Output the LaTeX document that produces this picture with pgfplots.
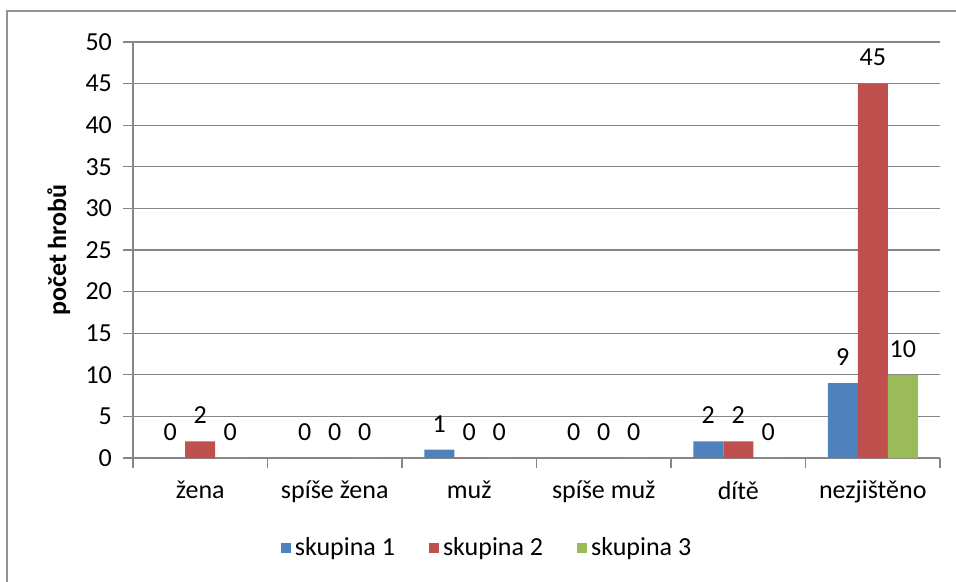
\documentclass[border=0pt]{standalone}
\usepackage{pgfplots}
\pgfplotsset{compat=1.18}
\usepackage{fontspec}
\setmainfont{Carlito}
\definecolor{sk1}{HTML}{4F81BD}
\definecolor{sk2}{HTML}{C0504D}
\definecolor{sk3}{HTML}{9BBB59}
\definecolor{osa}{HTML}{868686}
\begin{document}
\begin{tikzpicture}
\begin{axis}[
    scale only axis,
    width=403.5pt, height=208pt,
    ybar=0pt, bar width=15pt,
    xmin=-0.5, xmax=5.5,
    ymin=0, ymax=50,
    ytick={0,5,...,50},
    xtick={0,...,5},
    xticklabels={žena, spíše žena, muž, spíše muž, dítě, nezjištěno},
    minor xtick={-0.5,0.5,...,5.5},
    major x tick style={draw=none},
    tick align=outside,
    major tick length=5pt, minor tick length=5pt,
    tick style={osa, line width=0.6pt},
    axis x line*=bottom, axis y line*=left,
    axis line style={osa, line width=0.6pt},
    ymajorgrids, grid style={osa, line width=0.6pt},
    font=\fontsize{13}{15}\selectfont,
    tick label style={font=\fontsize{13}{15}\selectfont},
    /pgf/number format/assume math mode=true,
    xticklabel style={yshift=-3pt},
    yticklabel style={xshift=-2pt},
    ylabel={\bfseries počet hrobů},
    ylabel style={at={(axis description cs:-0.092,0.5)}, anchor=center, font=\fontsize{13}{15}\selectfont},
    nodes near coords,
    every node near coord/.append style={anchor=center, yshift=13pt, font=\fontsize{13}{15}\selectfont, text=black},
    legend columns=3,
    legend style={at={(axis description cs:0.44,-0.216)}, anchor=center, draw=none,
        font=\fontsize{13}{15}\selectfont,
        /tikz/every even column/.append style={column sep=15pt}},
    legend image code/.code={\fill[#1] (0pt,-2.5pt) rectangle (5pt,2.5pt);},
]
\addplot[fill=sk1, draw=none] coordinates {(0,0) (1,0) (2,1) (3,0) (4,2) (5,9)};
\addlegendentry{skupina 1}
\addplot[fill=sk2, draw=none] coordinates {(0,2) (1,0) (2,0) (3,0) (4,2) (5,45)};
\addlegendentry{skupina 2}
\addplot[fill=sk3, draw=none] coordinates {(0,0) (1,0) (2,0) (3,0) (4,0) (5,10)};
\addlegendentry{skupina 3}
\coordinate (bbA) at (axis description cs:-0.1648,-0.2957);
\coordinate (bbB) at (axis description cs:1.0198,1.101);
\coordinate (frA) at (axis description cs:-0.1561,-0.31);
\coordinate (frB) at (axis description cs:1.04,1.0745);
\end{axis}
\useasboundingbox (bbA) rectangle (bbB);
\draw[color=osa!90, line width=1pt] (frA) rectangle (frB);
\end{tikzpicture}
\end{document}
